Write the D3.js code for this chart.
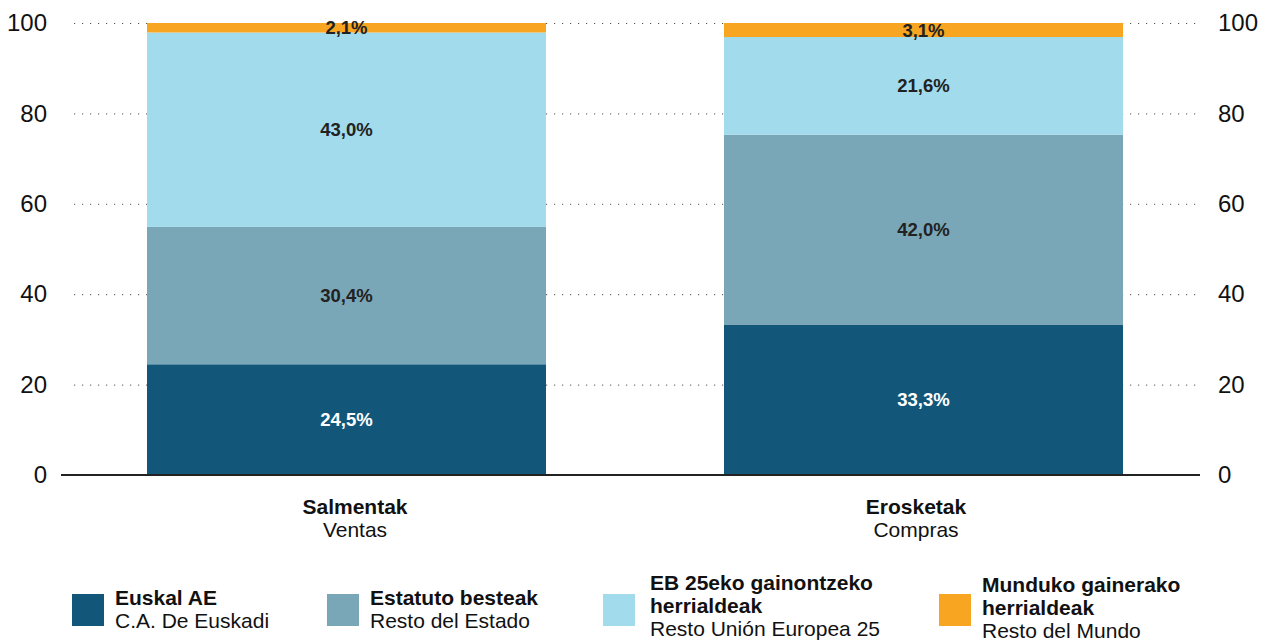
<!DOCTYPE html>
<html>
<head>
<meta charset="utf-8">
<script src="https://cdn.jsdelivr.net/npm/d3@7"></script>
<style>
  body { margin: 0; background: #fff; }
  svg { font-family: "Liberation Sans", Arial, sans-serif; }
</style>
</head>
<body>
<div id="chart"></div>
<script>
// Categories (bold basque name + spanish name)
const categories = ["Salmentak", "Erosketak"];
const categorySub = ["Ventas", "Compras"];

// Series, bottom to top
const seriesKeys = ["euskadi", "estado", "ue25", "mundo"];
const seriesBold = [
  ["Euskal AE"],
  ["Estatuto besteak"],
  ["EB 25eko gainontzeko", "herrialdeak"],
  ["Munduko gainerako", "herrialdeak"]
];
const seriesSub = ["C.A. De Euskadi", "Resto del Estado", "Resto Unión Europea 25", "Resto del Mundo"];
const seriesColors = ["#12577a", "#7aa7b7", "#a1dbec", "#f8a521"];

// Values in percent per category
const salmentakValues = [24.5, 30.4, 43.0, 2.1];
const erosketakValues = [33.3, 42.0, 21.6, 3.1];

const yTicks = [0, 20, 40, 60, 80, 100];

const width = 1265, height = 641;

const rows = categories.map((c, i) => {
  const vals = i === 0 ? salmentakValues : erosketakValues;
  const row = { cat: c };
  seriesKeys.forEach((k, j) => (row[k] = vals[j]));
  return row;
});

const svg = d3
  .select("#chart")
  .append("svg")
  .attr("width", width)
  .attr("height", height);

// Scales
const x = d3
  .scaleBand()
  .domain(categories)
  .range([58, 1212])
  .paddingInner(0.3085)
  .paddingOuter(0.3085 / 2);

// category labels sit on a slightly narrower band
const xLabel = d3.scaleBand().domain(categories).range([74.5, 1196.5]);

const y = d3.scaleLinear().domain([0, 100]).range([475, 23]);

// Dotted gridlines
svg
  .append("g")
  .selectAll("line")
  .data(yTicks.filter((t) => t > 0))
  .join("line")
  .attr("x1", 74)
  .attr("x2", 1198)
  .attr("y1", (d) => y(d) + 0.5)
  .attr("y2", (d) => y(d) + 0.5)
  .attr("stroke", "#555")
  .attr("stroke-width", 1)
  .attr("stroke-dasharray", "1.2,6.8");

// Stacked bars
const stack = d3.stack().keys(seriesKeys);
const stacked = stack(rows);

const layers = svg
  .append("g")
  .selectAll("g")
  .data(stacked)
  .join("g")
  .attr("fill", (d, i) => seriesColors[i]);

layers
  .selectAll("rect")
  .data((d) => d)
  .join("rect")
  .attr("x", (d) => x(d.data.cat))
  .attr("width", x.bandwidth())
  .attr("y", (d) => y(d[1]))
  .attr("height", (d) => y(d[0]) - y(d[1]));

// Value labels
const fmt = (v) => v.toFixed(1).replace(".", ",") + "%";
stacked.forEach((layer, i) => {
  svg
    .append("g")
    .selectAll("text")
    .data(layer)
    .join("text")
    .attr("x", (d) => x(d.data.cat) + x.bandwidth() / 2)
    .attr("y", (d) => (y(d[0]) + y(d[1])) / 2)
    .attr("dy", "0.36em")
    .attr("text-anchor", "middle")
    .attr("font-size", 18.5)
    .attr("font-weight", "bold")
    .attr("fill", i === 0 ? "#fff" : "#222")
    .text((d) => fmt(d[1] - d[0]));
});

// Baseline
svg
  .append("line")
  .attr("x1", 61)
  .attr("x2", 1200)
  .attr("y1", y(0))
  .attr("y2", y(0))
  .attr("stroke", "#222")
  .attr("stroke-width", 2);

// Left and right axis labels
const yAxisLeft = d3.axisLeft(y).tickValues(yTicks).tickSize(0).tickPadding(0);
const yAxisRight = d3.axisRight(y).tickValues(yTicks).tickSize(0).tickPadding(0);

svg
  .append("g")
  .attr("transform", "translate(47,0)")
  .call(yAxisLeft)
  .call((g) => g.select(".domain").remove())
  .selectAll("text")
  .attr("font-size", 24)
  .attr("font-family", "Liberation Sans, Arial, sans-serif")
  .attr("fill", "#111");

svg
  .append("g")
  .attr("transform", "translate(1218,0)")
  .call(yAxisRight)
  .call((g) => g.select(".domain").remove())
  .selectAll("text")
  .attr("font-size", 24)
  .attr("font-family", "Liberation Sans, Arial, sans-serif")
  .attr("fill", "#111");

// Category labels
const catG = svg
  .append("g")
  .selectAll("g")
  .data(categories)
  .join("g")
  .attr("transform", (d) => `translate(${xLabel(d) + xLabel.bandwidth() / 2},0)`);

catG
  .append("text")
  .attr("y", 514)
  .attr("text-anchor", "middle")
  .attr("font-size", 21)
  .attr("font-weight", "bold")
  .attr("fill", "#111")
  .text((d) => d);

catG
  .append("text")
  .attr("y", 537)
  .attr("text-anchor", "middle")
  .attr("font-size", 21)
  .attr("fill", "#111")
  .text((d, i) => categorySub[i]);

// Legend
const legendX = [72, 327, 603, 939];
const legend = svg
  .append("g")
  .selectAll("g")
  .data(seriesKeys)
  .join("g")
  .attr("transform", (d, i) => `translate(${legendX[i]},594)`);

legend
  .append("rect")
  .attr("width", 32)
  .attr("height", 32)
  .attr("fill", (d, i) => seriesColors[i]);

legend.each(function (d, i) {
  const g = d3.select(this);
  const lines = seriesBold[i];
  const top = lines.length === 1 ? 11 : i === 2 ? -4 : -2;
  const tx = i === 2 ? 47 : 43;
  const t = g
    .append("text")
    .attr("x", tx)
    .attr("y", top)
    .attr("font-size", 21)
    .attr("fill", "#111");
  lines.forEach((l, k) => {
    t.append("tspan")
      .attr("x", tx)
      .attr("dy", k === 0 ? 0 : 23)
      .attr("font-weight", "bold")
      .text(l);
  });
  t.append("tspan").attr("x", tx).attr("dy", 23).text(seriesSub[i]);
});
</script>
</body>
</html>
